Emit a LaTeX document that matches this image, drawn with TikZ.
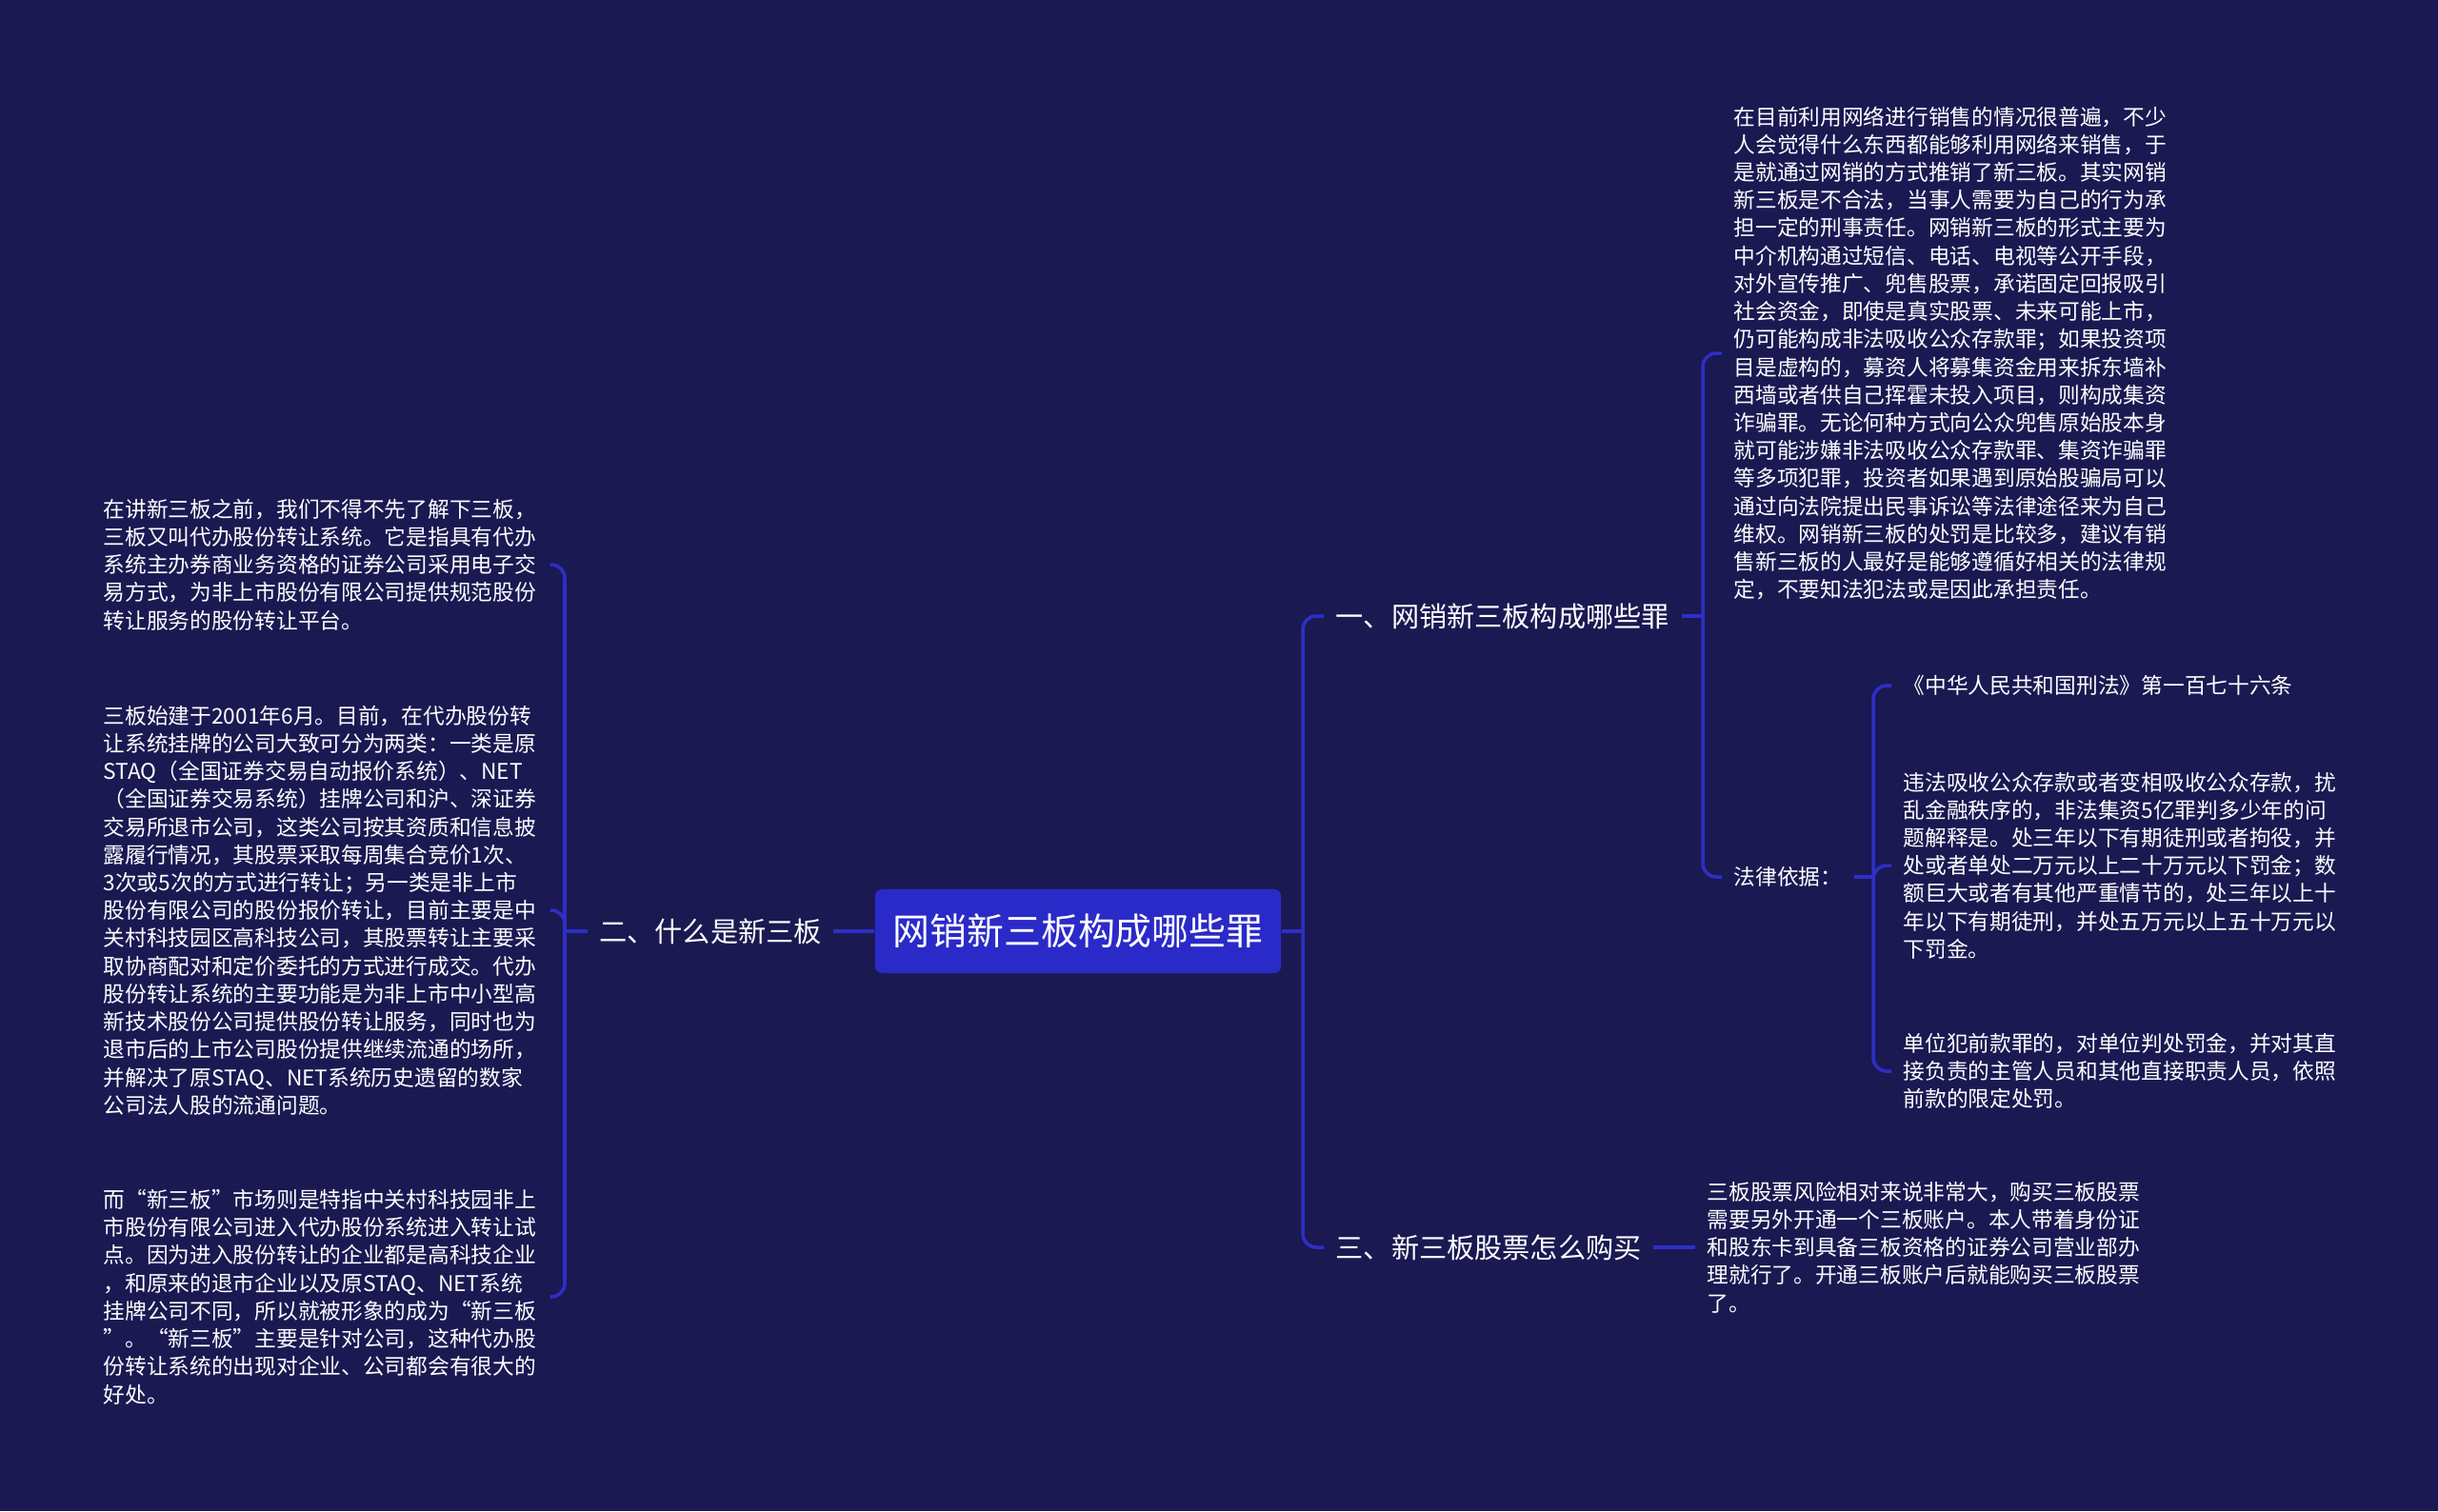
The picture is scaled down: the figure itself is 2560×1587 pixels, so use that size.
\documentclass[tikz,border=0pt]{standalone}
\usepackage{fontspec}
\newfontfamily\cjk{Noto Sans CJK SC}
\definecolor{bgc}{RGB}{26,25,82}
\definecolor{linec}{RGB}{46,46,200}
\definecolor{rootc}{RGB}{42,42,200}
\tikzset{
  txt/.style={font=\cjk\fontsize{6.46pt}{8.31pt}\selectfont, text=white, align=left, text width=4.56cm, inner xsep=3.4pt, inner ysep=2pt, anchor=west},
  small/.style={font=\cjk\fontsize{6.46pt}{8.31pt}\selectfont, text=white, inner xsep=3.4pt, inner ysep=2pt, anchor=west},
  lab/.style={font=\cjk\fontsize{8.3pt}{10pt}\selectfont, text=white, inner xsep=3.4pt, inner ysep=2pt},
  conn/.style={draw=linec, line width=1pt, rounded corners=4pt},
  rootbox/.style={fill=rootc, rounded corners=2pt, text=white, font=\cjk\fontsize{11.05pt}{13pt}\selectfont, minimum width=4.26cm, minimum height=0.88cm, inner sep=0pt}
}
\begin{document}
\begin{tikzpicture}[x=0.01cm,y=-0.01cm]
\fill[bgc] (0,0) rectangle (2560,1587);
\useasboundingbox (0,0) rectangle (2560,1587);

\node[rootbox] (root) at (1132,978) {网销新三板构成哪些罪};

\node[lab, anchor=west] (lab1) at (1390,647) {一、网销新三板构成哪些罪};
\node[lab] (lab2) at (746,978) {二、什么是新三板};
\node[lab, anchor=west] (lab3) at (1390,1310) {三、新三板股票怎么购买};

% left blocks
\node[txt] (L1) at (96,593) {在讲新三板之前，我们不得不先了解下三板，\\三板又叫代办股份转让系统。它是指具有代办\\系统主办券商业务资格的证券公司采用电子交\\易方式，为非上市股份有限公司提供规范股份\\转让服务的股份转让平台。};
\node[txt] (L2) at (96,956) {三板始建于2001年6月。目前，在代办股份转\\让系统挂牌的公司大致可分为两类：一类是原\\STAQ（全国证券交易自动报价系统）、NET\\（全国证券交易系统）挂牌公司和沪、深证券\\交易所退市公司，这类公司按其资质和信息披\\露履行情况，其股票采取每周集合竞价1次、\\3次或5次的方式进行转让；另一类是非上市\\股份有限公司的股份报价转让，目前主要是中\\关村科技园区高科技公司，其股票转让主要采\\取协商配对和定价委托的方式进行成交。代办\\股份转让系统的主要功能是为非上市中小型高\\新技术股份公司提供股份转让服务，同时也为\\退市后的上市公司股份提供继续流通的场所，\\并解决了原STAQ、NET系统历史遗留的数家\\公司法人股的流通问题。};
\node[txt] (L3) at (96,1362) {而“新三板”市场则是特指中关村科技园非上\\市股份有限公司进入代办股份系统进入转让试\\点。因为进入股份转让的企业都是高科技企业\\，和原来的退市企业以及原STAQ、NET系统\\挂牌公司不同，所以就被形象的成为“新三板\\”。“新三板”主要是针对公司，这种代办股\\份转让系统的出现对企业、公司都会有很大的\\好处。};

% right branch 1
\node[txt] (R1) at (1808,371) {在目前利用网络进行销售的情况很普遍，不少\\人会觉得什么东西都能够利用网络来销售，于\\是就通过网销的方式推销了新三板。其实网销\\新三板是不合法，当事人需要为自己的行为承\\担一定的刑事责任。网销新三板的形式主要为\\中介机构通过短信、电话、电视等公开手段，\\对外宣传推广、兜售股票，承诺固定回报吸引\\社会资金，即使是真实股票、未来可能上市，\\仍可能构成非法吸收公众存款罪；如果投资项\\目是虚构的，募资人将募集资金用来拆东墙补\\西墙或者供自己挥霍未投入项目，则构成集资\\诈骗罪。无论何种方式向公众兜售原始股本身\\就可能涉嫌非法吸收公众存款罪、集资诈骗罪\\等多项犯罪，投资者如果遇到原始股骗局可以\\通过向法院提出民事诉讼等法律途径来为自己\\维权。网销新三板的处罚是比较多，建议有销\\售新三板的人最好是能够遵循好相关的法律规\\定，不要知法犯法或是因此承担责任。};
\node[small] (law) at (1808,921) {法律依据：};

\node[small] (C1) at (1986,720) {《中华人民共和国刑法》第一百七十六条};
\node[txt] (C2) at (1986,909) {违法吸收公众存款或者变相吸收公众存款，扰\\乱金融秩序的，非法集资5亿罪判多少年的问\\题解释是。处三年以下有期徒刑或者拘役，并\\处或者单处二万元以上二十万元以下罚金；数\\额巨大或者有其他严重情节的，处三年以上十\\年以下有期徒刑，并处五万元以上五十万元以\\下罚金。};
\node[txt] (C3) at (1986,1125) {单位犯前款罪的，对单位判处罚金，并对其直\\接负责的主管人员和其他直接职责人员，依照\\前款的限定处罚。};

% right branch 3
\node[txt] (B3) at (1780,1310) {三板股票风险相对来说非常大，购买三板股票\\需要另外开通一个三板账户。本人带着身份证\\和股东卡到具备三板资格的证券公司营业部办\\理就行了。开通三板账户后就能购买三板股票\\了。};

% connectors
\coordinate (jr) at (1368,978);
\coordinate (jl) at (593,978);
\coordinate (j1) at (1788,647);
\coordinate (j2) at (1967,921);

\draw[conn] (root.east) -- (jr);
\draw[conn] (jr) |- (lab1.west);
\draw[conn] (jr) |- (lab3.west);

\draw[conn] (root.west) -- (lab2.east);
\draw[conn] (lab2.west) -- (jl);
\draw[conn] (jl) |- (L1.east);
\draw[conn] (jl) |- (L2.east);
\draw[conn] (jl) |- (L3.east);

\draw[conn] (lab1.east) -- (j1);
\draw[conn] (j1) |- (R1.west);
\draw[conn] (j1) |- (law.west);

\draw[conn] (law.east) -- (j2);
\draw[conn] (j2) |- (C1.west);
\draw[conn] (j2) |- (C2.west);
\draw[conn] (j2) |- (C3.west);

\draw[conn] (lab3.east) -- (B3.west);
\end{tikzpicture}
\end{document}
